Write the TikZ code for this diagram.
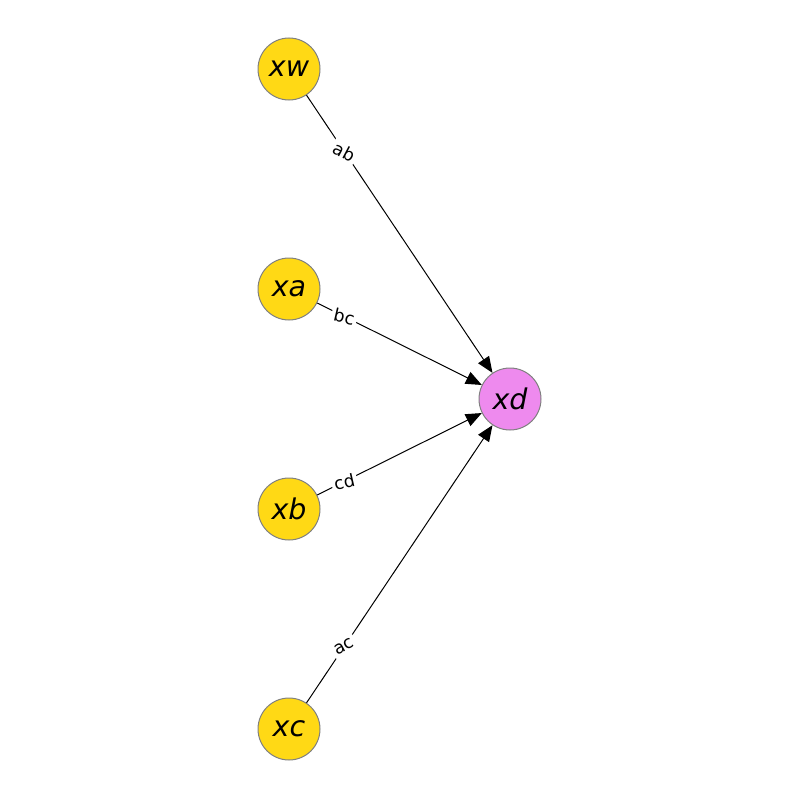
\documentclass[tikz,border=0pt]{standalone}
\usepackage{fontspec}
\setmainfont{DejaVu Sans}
\usetikzlibrary{arrows.meta,calc}
\definecolor{nodegold}{HTML}{FFD915}
\definecolor{nodeviolet}{HTML}{EE8AEE}
\begin{document}
\begin{tikzpicture}[x=1pt,y=-1pt,
  vert/.style={circle,draw=gray,line width=1pt,minimum size=62pt,inner sep=0pt,
    font=\fontsize{28.5}{32}\selectfont\itshape},
  gold/.style={vert,fill=nodegold},
  viol/.style={vert,fill=nodeviolet},
  edge/.style={line width=1pt,black,-{Triangle[length=16pt,width=13pt]}},
  lbl/.style={fill=white,inner sep=2.5pt,font=\fontsize{17.5}{20}\selectfont}]
\useasboundingbox (0,0) rectangle (800,800);
\node[gold] (xw) at (289,69) {xw};
\node[gold] (xa) at (289,289) {xa};
\node[gold] (xb) at (289,509) {xb};
\node[gold] (xc) at (289,729) {xc};
\node[viol] (xd) at (510,399) {xd};
\draw[edge] (xw) -- (xd);
\draw[edge] (xa) -- (xd);
\draw[edge] (xb) -- (xd);
\draw[edge] (xc) -- (xd);
\node[lbl,rotate=-28] (lab) at ($(xw)!0.25!(xd)$) {ab};
\node[lbl,rotate=-13] (lbc) at ($(xa)!0.25!(xd)$) {bc};
\node[lbl,rotate=13] (lcd) at ($(xb)!0.25!(xd)$) {cd};
\node[lbl,rotate=28] (lac) at ($(xc)!0.25!(xd)$) {ac};
\end{tikzpicture}
\end{document}
